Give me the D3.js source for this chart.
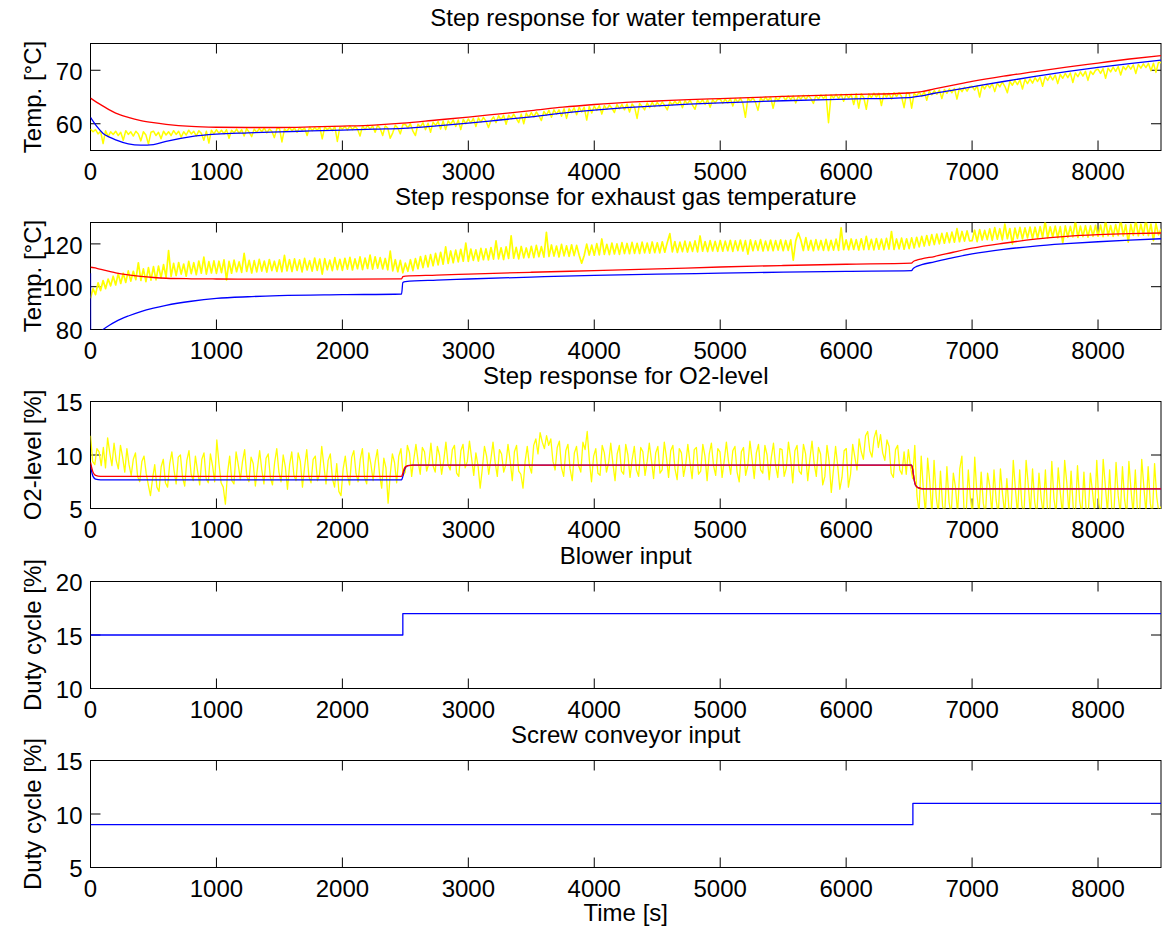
<!DOCTYPE html>
<html>
<head>
<meta charset="utf-8">
<script src="https://cdn.jsdelivr.net/npm/d3@7"></script>
<style>
  body { margin: 0; background: #fff; }
  svg text { font-family: "Liberation Sans", Arial, Helvetica, sans-serif; font-size: 24px; fill: #000; }
</style>
</head>
<body>
<svg id="fig" width="1165" height="931"></svg>
<script>
// ---------------- shared axis data ----------------
const timeMax = 8500;
const xTickValues = [0, 1000, 2000, 3000, 4000, 5000, 6000, 7000, 8000];

// ---------------- water temperature ----------------
const waterSampleStep = 20; // s between logged samples
const waterMeasured = [
  59.0,58.5,58.9,58.1,58.6,56.3,58.7,57.6,58.5,58.0,58.6,57.8,58.4,56.9,58.7,58.0,58.5,57.7,58.6,58.1,56.8,58.5,57.9,56.2,58.4,
  58.6,57.8,58.4,57.2,58.6,57.9,58.5,57.8,58.7,58.0,58.6,57.5,58.5,57.9,58.8,58.1,58.6,57.7,58.7,58.2,56.9,58.6,56.4,58.8,58.1,
  58.9,58.2,58.8,58.1,58.9,57.3,58.8,58.3,59.0,58.2,58.9,57.7,59.1,58.4,57.6,59.0,58.4,59.1,58.5,59.2,58.3,59.0,58.6,57.4,59.1,
  59.2,56.6,59.0,58.6,59.3,58.7,59.2,58.4,59.3,58.8,59.2,57.8,59.4,58.7,59.3,58.8,59.4,57.2,59.4,58.9,59.3,58.7,59.5,56.7,59.4,
  59.0,59.5,58.8,59.6,58.9,59.5,59.0,57.7,59.6,58.9,59.7,59.0,59.6,58.4,59.7,59.1,57.8,59.6,59.2,57.3,58.3,59.7,59.2,58.1,59.8,
  59.9,59.2,60.0,58.6,57.8,59.9,59.4,60.2,58.9,60.1,58.4,60.3,59.7,60.4,59.0,60.5,58.9,60.5,59.9,60.7,59.5,60.7,58.9,60.8,60.0,
  60.9,60.1,61.0,59.5,61.1,60.3,61.2,60.5,59.3,60.6,61.3,60.2,61.5,60.7,61.6,59.9,61.6,60.9,61.8,61.0,60.2,61.8,60.0,62.0,61.2,
  62.1,61.3,62.2,61.5,60.6,62.3,61.6,62.5,61.2,62.6,61.8,62.6,61.4,62.8,61.0,62.8,62.1,63.0,61.7,63.1,62.2,63.1,60.7,63.2,62.0,
  63.3,62.5,63.4,61.8,63.4,62.7,63.5,62.9,62.1,63.6,62.8,63.6,62.6,63.7,62.2,63.7,63.1,61.0,63.8,63.2,62.6,63.9,63.0,64.0,63.2,
  64.0,63.3,64.1,63.4,62.6,64.1,63.5,64.2,63.6,64.3,63.0,64.3,63.7,64.4,63.5,62.7,64.4,63.8,64.5,63.6,64.5,63.1,64.5,63.9,64.6,
  64.6,63.8,64.6,63.9,64.7,63.3,64.7,64.0,64.8,63.8,61.2,64.8,64.2,64.9,64.0,62.5,64.9,64.2,65.0,64.3,65.0,62.9,64.9,64.4,65.1,
  65.1,64.4,65.2,64.5,65.2,63.9,65.2,64.6,65.3,64.5,65.3,64.7,63.8,65.3,64.6,65.4,64.7,65.4,60.2,65.4,64.8,65.5,64.7,65.5,64.2,
  65.5,64.8,65.5,63.6,65.6,62.9,65.6,64.9,62.7,65.6,64.9,65.7,65.0,65.7,63.4,65.7,65.0,65.7,64.6,65.8,65.1,65.8,65.1,63.0,65.8,
  65.8,62.9,65.7,65.2,65.9,65.1,66.0,64.4,66.1,65.4,66.2,65.5,66.3,64.7,66.4,65.7,66.5,65.8,66.6,64.6,66.7,66.0,66.8,66.1,66.9,
  67.0,66.3,67.1,65.0,67.2,66.5,67.4,66.7,67.5,66.0,67.6,66.9,67.8,67.0,65.8,67.9,67.2,68.1,67.3,68.2,66.5,68.3,67.5,68.4,67.6,
  68.6,67.9,68.7,67.0,68.8,68.1,69.0,68.2,69.1,67.5,69.2,68.5,69.4,68.6,69.5,67.7,69.5,68.8,69.7,68.9,69.8,68.1,69.8,69.2,70.0,
  70.2,69.4,70.3,68.5,70.4,69.7,70.6,69.8,70.7,69.1,70.7,70.1,70.9,70.2,71.0,69.4,71.1,70.4,71.2,70.5,71.3,69.9,71.3,69.6,71.5,
  71.4
];
const waterModelTime = [0,50,100,150,200,300,400,500,600,800,1000,1250,1500,1750,2000,2250,2480,2750,3000,3250,
  3500,3750,4000,4250,4500,4750,5000,5500,6000,6500,6600,6700,6850,7000,7250,7500,7750,8000,8250,8500];
const waterModelRed = [64.8,64.0,63.3,62.6,62.0,61.2,60.6,60.2,59.9,59.5,59.35,59.3,59.3,59.4,59.55,59.75,60.1,60.7,61.25,61.85,
  62.45,63.1,63.6,64.0,64.25,64.5,64.7,65.1,65.45,65.75,66.0,66.5,67.2,67.9,68.9,69.75,70.6,71.35,72.1,72.75];
const waterModelBlue = [61.2,59.5,58.2,57.5,57.0,56.25,56.0,56.1,56.7,57.6,58.05,58.3,58.5,58.65,58.8,59.0,59.15,59.6,60.1,60.7,
  61.3,62.0,62.55,63.0,63.35,63.65,63.9,64.3,64.6,64.9,65.2,65.7,66.3,66.9,67.9,68.85,69.75,70.55,71.25,71.9];
const waterYDomain = [55, 75];
const waterYTicks = [60, 70];

// ---------------- exhaust gas temperature ----------------
const gasSampleStep = 20;
const gasMeasured = [
  94.6,99.1,96.3,101.8,98.2,102.9,99.1,103.6,100.4,104.9,100.8,106.1,101.5,106.3,102.0,107.4,102.6,107.2,103.3,111.2,102.9,108.3,102.4,108.9,103.1,
  109.4,103.2,109.6,104.1,110.3,104.5,116.9,104.8,110.9,105.2,111.3,105.9,110.6,104.9,111.8,106.1,111.2,105.6,112.0,106.3,113.8,105.9,111.7,106.4,112.1,
  106.2,111.9,106.6,112.5,103.2,111.8,106.3,112.4,107.0,111.6,106.7,115.6,107.1,112.3,106.4,112.2,106.9,112.8,107.3,112.0,106.8,112.7,107.5,111.9,107.1,
  112.5,107.0,114.6,107.4,112.6,107.1,113.0,107.6,112.5,106.9,113.2,107.8,112.2,107.3,113.4,107.6,112.9,105.9,113.1,107.9,112.4,107.5,113.6,108.0,112.8,
  107.6,113.3,108.2,113.7,107.8,113.0,108.4,113.9,108.0,113.4,108.5,114.8,108.2,114.0,108.7,113.6,108.3,113.2,107.9,116.6,107.4,112.6,107.0,112.3,106.5,
  111.0,107.2,112.6,107.5,113.1,108.4,114.1,108.9,114.5,109.3,115.0,109.8,115.6,110.2,116.1,110.5,118.6,110.9,116.7,111.2,117.1,111.6,117.5,111.9,120.4,
  111.8,117.6,112.3,117.2,112.0,117.9,112.6,117.7,112.5,118.3,112.9,121.4,113.0,118.2,112.7,118.6,113.2,123.8,113.3,118.4,113.0,118.8,113.5,118.1,113.6,
  118.9,113.6,119.3,114.0,118.7,113.8,125.4,114.1,119.5,114.3,119.0,113.9,119.8,114.4,119.1,114.2,119.6,114.5,119.3,114.7,111.0,114.6,119.9,114.8,119.4,
  114.7,120.1,114.9,122.3,115.1,119.8,115.0,120.4,115.3,120.0,115.1,120.6,115.5,120.2,115.4,120.7,115.6,120.3,115.5,120.8,115.8,120.4,115.7,120.9,115.9,
  120.5,115.8,121.0,116.1,120.7,124.8,116.3,121.1,116.0,120.8,116.4,121.3,116.2,120.9,116.5,121.4,116.3,123.7,116.6,121.1,116.4,121.5,116.7,121.2,116.5,
  121.6,116.6,121.3,116.8,121.7,116.5,121.4,116.9,121.8,116.7,121.5,115.2,121.9,116.8,121.4,117.0,122.0,116.7,121.3,116.9,121.8,116.8,121.5,117.1,121.9,
  116.8,121.6,117.0,121.9,112.4,121.5,125.1,121.8,116.9,122.9,117.1,121.7,116.8,122.0,117.2,121.6,117.0,122.1,116.9,121.7,117.1,122.2,117.0,127.5,117.3,
  121.9,117.2,122.3,117.4,122.0,117.1,122.4,117.3,123.5,117.4,122.1,117.2,122.5,117.5,122.2,117.3,122.6,117.6,125.8,117.4,122.3,117.7,122.7,117.5,122.4,
  117.8,122.8,118.1,123.1,118.6,123.5,119.0,123.9,119.3,124.3,119.7,124.6,120.0,124.9,120.3,125.2,120.6,125.5,120.8,127.1,121.0,125.8,121.3,126.1,121.4,
  121.5,126.4,121.1,126.7,121.8,126.3,122.0,127.0,121.7,127.6,122.2,127.1,121.9,129.2,122.4,127.2,120.0,127.4,122.6,127.7,122.3,127.5,122.8,127.9,122.5,
  127.8,122.7,128.1,123.0,130.6,122.8,128.0,123.2,128.3,122.9,128.1,120.4,128.4,123.1,128.2,123.3,130.8,123.0,128.3,123.4,128.5,123.2,128.4,123.5,128.7,
  123.6,128.8,123.4,131.0,123.8,128.6,123.5,129.0,123.9,131.5,123.7,128.9,120.8,129.1,124.0,131.3,123.8,129.2,124.1,131.6,123.9,129.3,121.5,129.5,124.2,
  127.0
];
const gasModelTime = [0,1,50,100,150,200,300,400,500,600,800,1000,1250,1500,2000,2470,2480,2500,2750,3000,
  3500,4000,4500,5000,5500,6000,6520,6530,6560,6600,6700,6850,7000,7250,7500,7750,8000,8250,8500];
const gasModelRed = [109.1,109.1,108.6,107.9,107.2,106.5,105.5,104.8,104.3,103.95,103.7,103.6,103.55,103.5,103.55,103.7,104.7,104.95,105.4,105.9,
  106.75,107.5,108.3,109.2,109.9,110.5,111.0,111.6,112.4,113.0,114.1,116.1,118.0,120.3,122.2,123.5,124.3,124.8,125.1];
const gasModelBlue = [106.3,74,77.5,80.0,82.0,83.7,86.3,88.4,90.0,91.3,93.2,94.5,95.3,95.8,96.25,96.6,102.0,102.4,103.1,103.6,
  104.5,105.3,105.9,106.3,106.8,107.2,107.5,108.3,109.5,110.3,111.6,113.6,115.3,117.4,119.0,120.1,121.0,121.8,122.4];
const gasYDomain = [80, 130];
const gasYTicks = [80, 100, 120];

// ---------------- O2 level ----------------
const o2SampleStep = 17;
const o2Measured = [
  11.8,9.4,9.1,10.6,10.3,9.0,10.7,8.8,11.6,10.2,9.0,11.1,9.5,8.7,10.9,9.8,8.4,10.6,9.1,8.1,
  9.6,10.2,8.0,7.5,9.4,9.9,8.3,7.2,6.2,7.8,9.1,7.0,6.6,8.9,9.6,7.4,7.0,9.2,10.3,8.6,
  7.3,9.8,10.0,7.9,7.1,9.5,10.4,8.2,7.6,9.9,8.5,7.2,9.6,10.2,7.8,7.4,10.1,9.0,7.5,11.4,
  9.2,7.4,7.0,5.4,8.3,9.9,7.6,7.3,10.3,9.1,7.7,9.4,10.5,8.0,7.5,9.8,9.2,7.1,8.8,10.4,
  8.6,7.3,9.7,10.1,7.9,7.2,9.3,10.6,8.4,7.5,10.0,8.9,6.8,9.1,10.3,8.1,7.6,10.2,9.4,7.0,
  8.9,10.5,8.0,7.4,9.6,9.9,7.6,8.2,10.8,9.0,7.3,9.5,10.1,7.8,7.0,9.2,6.6,6.2,8.7,9.9,
  8.1,7.2,9.8,10.4,8.3,7.5,9.6,10.6,7.9,7.3,10.2,9.1,7.6,9.4,10.5,8.2,6.9,9.7,8.8,5.5,
  8.2,10.1,9.3,7.4,9.9,10.6,8.1,8.4,10.9,10.2,8.0,9.6,11.0,9.4,8.2,10.7,10.3,8.5,9.2,11.1,
  9.0,8.4,10.8,10.0,8.2,9.5,11.2,9.1,8.6,10.5,10.9,8.3,8.0,10.4,11.0,8.8,9.4,11.3,9.7,8.1,
  10.2,9.0,6.9,8.7,10.8,9.9,8.2,9.6,11.2,9.3,8.0,10.5,10.1,8.4,9.1,11.0,9.5,7.6,10.3,10.9,
  8.5,8.2,6.9,9.4,10.8,9.0,8.3,10.9,11.5,10.1,12.1,11.2,10.6,11.8,10.9,11.5,9.4,8.6,10.7,11.3,
  8.8,8.0,10.4,11.0,8.7,7.6,10.2,10.8,9.0,8.4,11.2,10.5,12.2,9.5,7.5,9.9,10.6,8.3,8.1,10.9,
  10.2,8.4,9.3,11.1,9.2,7.6,10.1,10.9,8.5,8.2,11.0,10.0,7.9,9.6,10.8,8.6,8.0,10.7,10.3,8.1,
  9.4,11.1,9.5,7.8,10.2,10.8,8.3,8.6,11.2,9.8,7.9,10.4,10.9,8.7,7.7,10.6,10.2,8.0,9.1,11.0,
  9.3,7.8,10.5,10.7,8.2,8.5,11.0,9.9,7.6,10.1,11.1,9.0,8.1,10.6,10.3,7.9,9.5,11.2,9.4,8.2,
  10.4,10.8,8.4,7.5,10.3,10.7,8.1,9.0,11.3,9.6,7.8,10.2,11.0,8.6,8.3,10.9,10.0,7.7,9.8,11.1,
  9.0,7.9,10.6,10.5,8.0,8.8,11.2,9.7,7.4,10.4,10.9,8.5,8.2,11.0,10.1,7.6,9.6,11.3,9.2,8.0,
  10.7,10.1,7.2,8.0,10.9,9.4,6.5,8.6,10.8,9.0,6.8,7.9,10.4,10.6,7.0,8.2,11.0,9.8,8.6,11.5,
  10.3,9.6,11.8,12.2,10.4,9.8,11.6,12.3,10.7,11.9,10.2,9.5,11.4,10.8,8.3,7.9,10.5,10.9,8.6,8.2,
  10.3,8.2,10.5,8.9,7.8,10.9,6.2,4.6,9.9,6.8,4.5,9.7,7.5,4.4,9.5,6.1,4.5,8.5,5.2,4.6,
  8.9,5.6,4.4,8.3,7.0,4.5,8.7,9.9,4.8,4.6,8.6,5.9,4.4,9.8,6.4,4.5,8.4,5.5,4.4,8.3,
  7.1,4.5,8.6,5.8,4.4,8.7,6.3,4.5,7.8,4.9,4.6,9.5,6.8,4.4,8.6,5.3,4.5,9.5,7.2,4.5,
  8.7,5.6,4.4,8.3,6.0,4.5,8.6,4.8,4.4,9.4,5.9,4.5,8.8,6.4,4.4,9.5,7.4,4.5,8.5,5.1,
  4.4,9.0,5.7,4.5,8.4,4.9,4.4,8.3,6.6,4.5,9.5,5.4,4.4,9.6,7.1,4.6,8.6,5.0,4.4,9.3,
  6.2,4.5,8.9,5.8,4.4,9.4,6.7,4.5,8.6,4.8,4.4,9.6,7.0,4.5,8.9,5.5,4.4,9.2,6.1,4.6,
  5.2
];
const o2ModelTime = [0,10,20,40,80,2470,2480,2490,2500,2520,2560,6520,6530,6540,6550,6570,6610,8500];
const o2ModelRed  = [9.3,8.8,8.4,8.1,8.0,8.0,8.3,8.7,8.9,9.0,9.06,9.06,8.5,7.7,7.2,6.95,6.84,6.84];
const o2ModelBlue = [9.0,8.4,8.0,7.75,7.68,7.68,8.0,8.5,8.8,9.0,9.06,9.06,8.5,7.7,7.2,6.95,6.84,6.84];
const o2YDomain = [5, 15];
const o2YTicks = [5, 10, 15];

// ---------------- actuator inputs ----------------
const blowerTime = [0, 2480, 8500];
const blowerDuty = [15, 17, 17];
const blowerYDomain = [10, 20];
const blowerYTicks = [10, 15, 20];

const screwTime = [0, 6530, 8500];
const screwDuty = [9, 11, 11];
const screwYDomain = [5, 15];
const screwYTicks = [5, 10, 15];

// ---------------- labels ----------------
const panelTitles = [
  "Step response for water temperature",
  "Step response for exhaust gas temperature",
  "Step response for O2-level",
  "Blower input",
  "Screw conveyor input"
];
const panelYLabels = ["Temp. [\u00B0C]", "Temp. [\u00B0C]", "O2-level [%]", "Duty cycle [%]", "Duty cycle [%]"];
const xAxisLabel = "Time [s]";

// ---------------- colours ----------------
const measuredColor = "#ffff00";
const modelBlueColor = "#0000ff";
const modelRedColor = "#ff0000";

// sample times for the logged series
const sampleTimes = (n, step) => d3.range(n).map(i => i * step);

const panels = [
  { yDomain: waterYDomain, yTicks: waterYTicks, series: [
      { t: sampleTimes(waterMeasured.length, waterSampleStep), v: waterMeasured, color: measuredColor, width: 1.5, curve: d3.curveLinear },
      { t: waterModelTime, v: waterModelBlue, color: modelBlueColor, width: 1.3, curve: d3.curveMonotoneX },
      { t: waterModelTime, v: waterModelRed, color: modelRedColor, width: 1.3, curve: d3.curveMonotoneX } ] },
  { yDomain: gasYDomain, yTicks: gasYTicks, series: [
      { t: sampleTimes(gasMeasured.length, gasSampleStep), v: gasMeasured, color: measuredColor, width: 1.7, curve: d3.curveLinear },
      { t: gasModelTime, v: gasModelBlue, color: modelBlueColor, width: 1.3, curve: d3.curveMonotoneX },
      { t: gasModelTime, v: gasModelRed, color: modelRedColor, width: 1.3, curve: d3.curveMonotoneX } ] },
  { yDomain: o2YDomain, yTicks: o2YTicks, series: [
      { t: sampleTimes(o2Measured.length, o2SampleStep), v: o2Measured, color: measuredColor, width: 1.3, curve: d3.curveLinear },
      { t: o2ModelTime, v: o2ModelBlue, color: modelBlueColor, width: 1.3, curve: d3.curveMonotoneX },
      { t: o2ModelTime, v: o2ModelRed, color: modelRedColor, width: 1.3, curve: d3.curveMonotoneX } ] },
  { yDomain: blowerYDomain, yTicks: blowerYTicks, series: [
      { t: blowerTime, v: blowerDuty, color: modelBlueColor, width: 1.3, curve: d3.curveStepAfter } ] },
  { yDomain: screwYDomain, yTicks: screwYTicks, series: [
      { t: screwTime, v: screwDuty, color: modelBlueColor, width: 1.3, curve: d3.curveStepAfter } ] }
];

// ---------------- layout ----------------
const svg = d3.select("#fig");
const left = 90.5, right = 1161, plotH = 107;
const plotTops = [43.5, 222.5, 401.5, 581.5, 760.5];
const tickLen = 10;
const x = d3.scaleLinear().domain([0, timeMax]).range([left, right]);
const fmt = d3.format("d");

panels.forEach((p, k) => {
  const top = plotTops[k], bottom = top + plotH;
  const y = d3.scaleLinear().domain(p.yDomain).range([bottom, top]);
  const g = svg.append("g");

  // axes box and ticks sit underneath the data lines
  g.append("rect").attr("x", left).attr("y", top).attr("width", right - left).attr("height", plotH)
    .attr("fill", "none").attr("stroke", "#000").attr("stroke-width", 1);

  const axes = g.append("g");
  axes.append("g").attr("transform", `translate(0,${bottom})`)
    .call(d3.axisBottom(x).tickValues(xTickValues).tickSizeInner(-tickLen).tickSizeOuter(0)
      .tickPadding(12).tickFormat(fmt).offset(0));
  axes.append("g").attr("transform", `translate(0,${top})`)
    .call(d3.axisTop(x).tickValues(xTickValues).tickSizeInner(-tickLen).tickSizeOuter(0)
      .tickFormat("").offset(0));
  const leftAxis = axes.append("g").attr("transform", `translate(${left},0)`)
    .call(d3.axisLeft(y).tickValues(p.yTicks).tickSizeInner(-tickLen).tickSizeOuter(0)
      .tickPadding(8).tickFormat(fmt).offset(0));
  axes.append("g").attr("transform", `translate(${right},0)`)
    .call(d3.axisRight(y).tickValues(p.yTicks).tickSizeInner(-tickLen).tickSizeOuter(0)
      .tickFormat("").offset(0));
  leftAxis.selectAll("text").attr("dy", "0.4em");
  axes.selectAll(".domain").remove();
  axes.selectAll(".tick line").attr("stroke", "#000").attr("stroke-width", 1);

  // data lines, clipped to the axes area
  const clipId = "plotclip" + k;
  svg.append("clipPath").attr("id", clipId)
    .append("rect").attr("x", left).attr("y", top).attr("width", right - left).attr("height", plotH);

  const plot = g.append("g").attr("clip-path", `url(#${clipId})`);
  p.series.forEach(s => {
    const line = d3.line()
      .x((d, i) => x(s.t[i]))
      .y(d => y(d))
      .curve(s.curve);
    plot.append("path").datum(s.v)
      .attr("d", line)
      .attr("fill", "none")
      .attr("stroke", s.color)
      .attr("stroke-width", s.width)
      .attr("stroke-linejoin", "round");
  });

  // title and y label
  g.append("text").attr("x", (left + right) / 2).attr("y", top - 17.5)
    .attr("text-anchor", "middle").text(panelTitles[k]);
  g.append("text")
    .attr("transform", `translate(40.5,${top + plotH / 2}) rotate(-90)`)
    .attr("text-anchor", "middle").text(panelYLabels[k]);
});

svg.append("text").attr("x", (left + right) / 2).attr("y", 921)
  .attr("text-anchor", "middle").text(xAxisLabel);
</script>
</body>
</html>
